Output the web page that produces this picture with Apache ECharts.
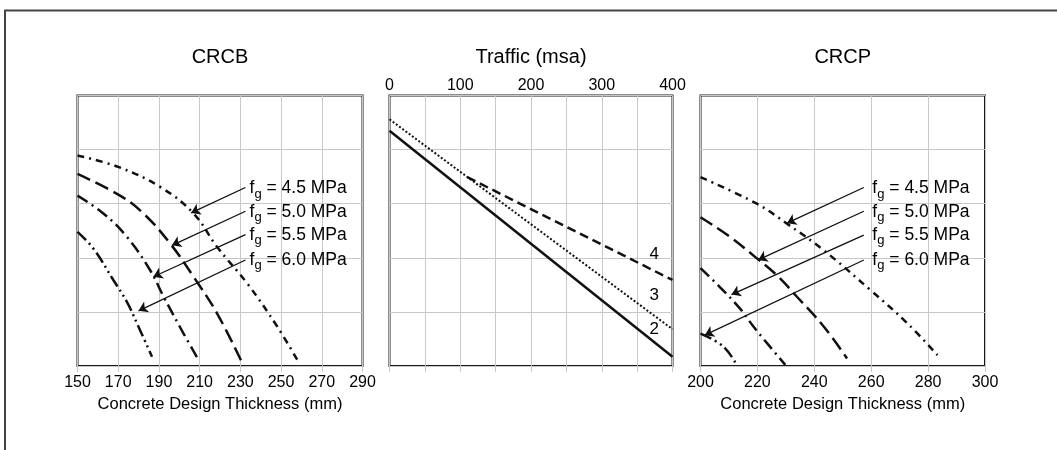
<!DOCTYPE html>
<html>
<head>
<meta charset="utf-8">
<script src="https://cdn.jsdelivr.net/npm/echarts@6/dist/echarts.min.js"></script>
<style>html,body{margin:0;padding:0;background:#fff}#c{width:1057px;height:450px}</style>
</head>
<body>
<div id="c"></div>
<script>
// ---------- DATA ----------
const panelTitles = ['CRCB', 'Traffic (msa)', 'CRCP'];
const thicknessName = 'Concrete Design Thickness (mm)';
const fgValues = ['4.5', '5.0', '5.5', '6.0'];

// CRCB curves [thickness mm, relative height 0..5]
const crcb45 = [[150,3.89],[170,3.68],[190.6,3.31],[207,2.82],[218.6,2.2],[233.3,1.53],[248.1,0.73],[258,0.11]];
const crcb50 = [[150,3.55],[170.9,3.15],[182.4,2.82],[195.6,2.26],[207,1.65],[218.6,0.97],[230.9,0.06]];
const crcb55 = [[150,3.15],[162.7,2.82],[174.2,2.39],[185.7,1.77],[192.3,1.28],[202.1,0.6],[209.5,0.11]];
const crcb60 = [[150,2.48],[157.8,2.17],[167.6,1.59],[174.2,1.19],[179.2,0.79],[186.6,0.17]];
const crcbArrowTail = [[232.5,3.30],[232.5,2.86],[232.5,2.43],[232.5,1.96]];
const crcbArrowHead = [[205.8,2.83],[196.4,2.23],[187.3,1.65],[180,1.02]];
const crcbLabelPos = [[234.5,3.28],[234.5,2.85],[234.5,2.42],[234.5,1.96]];

// CRCP curves
const crcp45 = [[200,3.49],[219.8,3.0],[230.4,2.63],[243.3,2.14],[259.8,1.40],[272.7,0.79],[283.3,0.20]];
const crcp50 = [[200,2.75],[210.3,2.39],[219.8,1.99],[226.8,1.68],[233.9,1.28],[243.3,0.73],[251.5,0.14]];
const crcp55 = [[200,1.81],[206.8,1.46],[213.9,1.06],[218.6,0.73],[223.9,0.39],[229.8,0.02]];
const crcp60 = [[200,0.60],[208,0.36],[212.7,0.02]];
const crcpArrowTail = [[257.4,3.30],[257.4,2.86],[257.4,2.42],[257.4,1.96]];
const crcpArrowHead = [[230.4,2.64],[220.3,1.96],[210.9,1.32],[201.5,0.57]];
const crcpLabelPos = [[260.4,3.28],[260.4,2.85],[260.4,2.42],[260.4,1.96]];

// Traffic lines (msa, relative height)
const traffic2 = [[0,4.35],[400,0.17]];
const traffic3 = [[0,4.56],[400,0.68]];
const traffic4 = [[110,3.49],[400,1.59]];
const trafficLabels = ['2', '3', '4'];
const trafficLabelPos = [[374,0.68],[374,1.31],[374,2.07]];

const crcbTicks = [150, 290, 20];
const trafficTicks = [0, 400, 50];
const crcpTicks = [200, 300, 20];

// ---------- STYLE ----------
const FONT = "'Liberation Sans', Arial, sans-serif";
const INK = '#000';
const GRID = '#c8c8c8';

const grids = [
  {left: 77.5, top: 95.5, width: 285, height: 270.5},
  {left: 389.5, top: 95.5, width: 283, height: 270.5},
  {left: 700.5, top: 95.5, width: 284.5, height: 270.5}
];
grids.forEach(g => Object.assign(g, {show: true, borderColor: '#1a1a1a', borderWidth: 2, backgroundColor: 'transparent'}));

function yAx(i) {
  return {type: 'value', gridIndex: i, min: 0, max: 5, interval: 1,
    axisLine: {show: false}, axisTick: {show: false}, axisLabel: {show: false},
    splitLine: {lineStyle: {color: GRID, width: 1}}};
}
function bottomThickAxis(i, t) {
  return {type: 'value', gridIndex: i, position: 'bottom', min: t[0], max: t[1], interval: t[2],
    axisLine: {show: false},
    axisTick: {show: true, length: 6, lineStyle: {color: GRID}},
    axisLabel: {fontFamily: FONT, fontSize: 16, color: INK, margin: 9},
    splitLine: {show: true, lineStyle: {color: GRID, width: 1}},
    name: thicknessName, nameLocation: 'middle', nameGap: 28,
    nameTextStyle: {fontFamily: FONT, fontSize: 16.5, color: INK}};
}
function topTitleAxis(i, t, title) {
  return {type: 'value', gridIndex: i, position: 'top', min: t[0], max: t[1], interval: t[2],
    axisLine: {show: false}, axisTick: {show: false}, axisLabel: {show: false}, splitLine: {show: false},
    name: title, nameLocation: 'middle', nameGap: 28,
    nameTextStyle: {fontFamily: FONT, fontSize: 20, color: INK}};
}

const xAxes = [
  bottomThickAxis(0, crcbTicks),
  topTitleAxis(0, crcbTicks, panelTitles[0]),
  {type: 'value', gridIndex: 1, position: 'top', min: trafficTicks[0], max: trafficTicks[1], interval: trafficTicks[2],
    axisLine: {show: false}, axisTick: {show: false},
    axisLabel: {fontFamily: FONT, fontSize: 16, color: INK, margin: 2,
      formatter: v => (v % 100 === 0 ? String(v) : '')},
    splitLine: {show: true, lineStyle: {color: GRID, width: 1}},
    name: panelTitles[1], nameLocation: 'middle', nameGap: 28,
    nameTextStyle: {fontFamily: FONT, fontSize: 20, color: INK}},
  {type: 'value', gridIndex: 1, position: 'bottom', min: trafficTicks[0], max: trafficTicks[1], interval: trafficTicks[2],
    axisLine: {show: false}, axisTick: {show: true, length: 6, lineStyle: {color: GRID}},
    axisLabel: {show: false}, splitLine: {show: false}},
  bottomThickAxis(2, crcpTicks),
  topTitleAxis(2, crcpTicks, panelTitles[2])
];
const yAxes = [yAx(0), yAx(1), yAx(2)];

const dash45 = [7, 5, 2, 5];
const dash50 = [14, 6];
const dash55 = [12, 5, 2, 5];
const dash60 = [12, 4, 2, 4, 2, 4];

function curve(data, xi, yi, dash, w) {
  return {type: 'line', xAxisIndex: xi, yAxisIndex: yi, data: data, smooth: 0.4,
    showSymbol: false, symbol: 'none', silent: true,
    lineStyle: {color: '#111', width: w || 2.5, type: dash, cap: 'butt'}};
}
function arrows(tails, heads, xi, yi) {
  return {type: 'lines', coordinateSystem: 'cartesian2d', xAxisIndex: xi, yAxisIndex: yi,
    symbol: ['none', 'arrow'], symbolSize: [0, 9], silent: true,
    lineStyle: {color: '#111', width: 1.3, opacity: 1, curveness: 0},
    data: tails.map((t, k) => ({coords: [t, heads[k]]}))};
}
const plainText = {color: INK, opacity: 1, textBorderWidth: 0, textShadowBlur: 0};
const richFg = {
  f: Object.assign({fontFamily: FONT, fontSize: 17.5, lineHeight: 24}, plainText),
  g: Object.assign({fontFamily: FONT, fontSize: 13, lineHeight: 14, verticalAlign: 'bottom'}, plainText),
  t: Object.assign({fontFamily: FONT, fontSize: 17.5, lineHeight: 24}, plainText)
};
function fgLabels(pos, xi, yi) {
  return {type: 'scatter', xAxisIndex: xi, yAxisIndex: yi, symbol: 'rect', symbolSize: 0.01, silent: true,
    z: 5, itemStyle: {color: '#000', opacity: 1},
    label: Object.assign({show: true, position: 'right', distance: 0,
      formatter: p => '{f|f}{g|g}{t| = ' + fgValues[p.dataIndex] + ' MPa}', rich: richFg}, plainText),
    data: pos};
}

const series = [
  curve(crcb45, 0, 0, dash45), curve(crcb50, 0, 0, dash50), curve(crcb55, 0, 0, dash55), curve(crcb60, 0, 0, dash60),
  arrows(crcbArrowTail, crcbArrowHead, 0, 0),
  fgLabels(crcbLabelPos, 0, 0),
  {type: 'line', xAxisIndex: 2, yAxisIndex: 1, data: traffic2, symbol: 'none', silent: true,
    lineStyle: {color: '#111', width: 2.5, type: 'solid'}},
  {type: 'line', xAxisIndex: 2, yAxisIndex: 1, data: traffic3, symbol: 'none', silent: true,
    lineStyle: {color: '#111', width: 2, type: [2, 2]}},
  {type: 'line', xAxisIndex: 2, yAxisIndex: 1, data: traffic4, symbol: 'none', silent: true,
    lineStyle: {color: '#111', width: 2.5, type: [9, 5]}},
  {type: 'scatter', xAxisIndex: 2, yAxisIndex: 1, symbol: 'rect', symbolSize: 0.01, silent: true,
    z: 5, itemStyle: {color: '#000', opacity: 1},
    label: Object.assign({show: true, position: 'inside', formatter: p => trafficLabels[p.dataIndex],
      fontFamily: FONT, fontSize: 17}, plainText),
    data: trafficLabelPos},
  curve(crcp45, 4, 2, dash45), curve(crcp50, 4, 2, dash50), curve(crcp55, 4, 2, dash55), curve(crcp60, 4, 2, dash60),
  arrows(crcpArrowTail, crcpArrowHead, 4, 2),
  fgLabels(crcpLabelPos, 4, 2)
];

const chart = echarts.init(document.getElementById('c'), null, {renderer: 'canvas'});
chart.setOption({
  animation: false,
  backgroundColor: '#fff',
  grid: grids,
  xAxis: xAxes,
  yAxis: yAxes,
  series: series,
  graphic: [{type: 'polyline', silent: true,
    shape: {points: [[5, 450], [5, 10.5], [1057, 10.5]]},
    style: {stroke: '#444', lineWidth: 2, fill: null}}]
});
</script>
</body>
</html>
